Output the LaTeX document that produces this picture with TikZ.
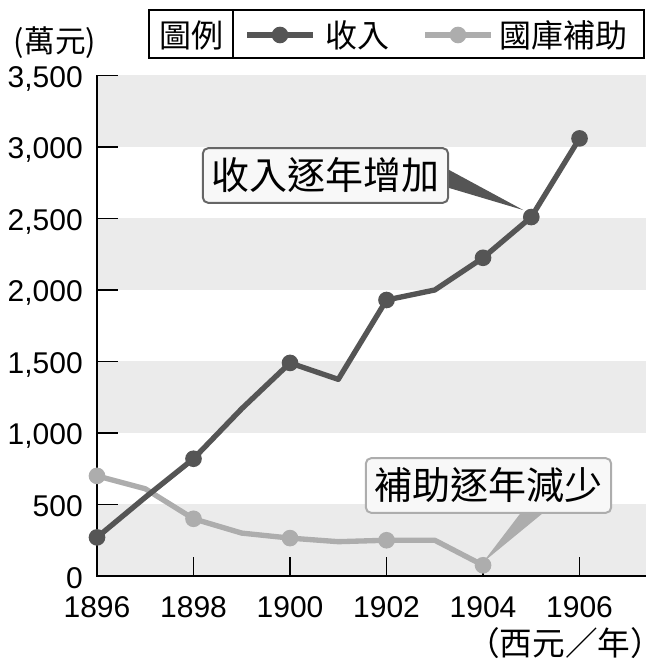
\documentclass[tikz,border=0pt]{standalone}
\usepackage{fontspec}
\setmainfont{Liberation Sans}
\newfontfamily\cjk{Noto Sans CJK TC}
\usetikzlibrary{calc}
\definecolor{incgray}{HTML}{555555}
\definecolor{subgray}{HTML}{ADADAD}
\definecolor{bandgray}{HTML}{EBEBEB}
\definecolor{notefill}{HTML}{F8F8F8}
\tikzset{
  datadot/.style={anchor=center,circle,fill,inner sep=0pt,minimum size=12.5pt},
  dataline/.style={line width=4pt,line join=round},
  numlab/.style={inner sep=0pt,font=\fontsize{22.5}{24}\selectfont},
  cjklab/.style={inner sep=0pt,font=\cjk\fontsize{24}{26}\selectfont},
  callout/.style={rounded corners=4pt,line width=1.5pt,fill=notefill,
    minimum width=184pt,minimum height=41pt,inner sep=0pt,
    font=\cjk\fontsize{28.5}{30}\selectfont},
}

\begin{document}
\begin{tikzpicture}[x=0.75pt,y=0.75pt]
  \useasboundingbox (0,0) rectangle (670,664);

  % legend
  \draw[line width=1.1pt] (149,606) rectangle (644,654);
  \draw[line width=1.1pt] (233,606) -- (233,654);
  \node[cjklab] (legtitle) at (191,629) {圖例};
  \draw[incgray,dataline] (247,629) -- (313,629);
  \node[datadot,incgray] (legdotinc) at (280,629) {};
  \node[cjklab,anchor=west] (leginc) at (325,629) {收入};
  \draw[subgray,dataline] (425,629) -- (491,629);
  \node[datadot,subgray] (legdotsub) at (458,629) {};
  \node[cjklab,anchor=west] (legsub) at (499,629) {國庫補助};

  \node[inner sep=0pt,font=\cjk\fontsize{23}{25}\selectfont] (yunit) at (55,621) {(萬元)};
  \node[inner sep=0pt,font=\cjk\fontsize{24.5}{26}\selectfont] (xunit) at (565,20.5) {（西元／年）};

  \begin{scope}[shift={(72.75pt,66pt)},x=36.19pt,y=0.10725pt]
    % bands
    \fill[bandgray] (0,0) rectangle (11.38,500);
    \fill[bandgray] (0,1000) rectangle (11.38,1500);
    \fill[bandgray] (0,2000) rectangle (11.38,2500);
    \fill[bandgray] (0,3000) rectangle (11.38,3500);

    % axes and ticks
    \draw[line width=1.5pt] (0,3500) -- (0,0) -- (11.38,0);
    \draw[line width=1.1pt] (0,500) -- ++(15.75pt,0);
    \draw[line width=1.1pt] (0,1000) -- ++(15.75pt,0);
    \draw[line width=1.1pt] (0,1500) -- ++(15.75pt,0);
    \draw[line width=1.1pt] (0,2000) -- ++(15.75pt,0);
    \draw[line width=1.1pt] (0,2500) -- ++(15.75pt,0);
    \draw[line width=1.1pt] (0,3000) -- ++(15.75pt,0);
    \draw[line width=1.1pt] (0,3500) -- ++(15.75pt,0);
    \draw[line width=1.1pt] (2,0) -- ++(0,14.25pt);
    \draw[line width=1.1pt] (4,0) -- ++(0,14.25pt);
    \draw[line width=1.1pt] (6,0) -- ++(0,14.25pt);
    \draw[line width=1.1pt] (8,0) -- ++(0,14.25pt);
    \draw[line width=1.1pt] (10,0) -- ++(0,14.25pt);

    \node[numlab,anchor=base east,xshift=-10.5pt,yshift=-9pt] (y0) at (0,0) {0};
    \node[numlab,anchor=base east,xshift=-10.5pt,yshift=-9pt] (y500) at (0,500) {500};
    \node[numlab,anchor=base east,xshift=-10.5pt,yshift=-9pt] (y1000) at (0,1000) {1,000};
    \node[numlab,anchor=base east,xshift=-10.5pt,yshift=-9pt] (y1500) at (0,1500) {1,500};
    \node[numlab,anchor=base east,xshift=-10.5pt,yshift=-9pt] (y2000) at (0,2000) {2,000};
    \node[numlab,anchor=base east,xshift=-10.5pt,yshift=-9pt] (y2500) at (0,2500) {2,500};
    \node[numlab,anchor=base east,xshift=-10.5pt,yshift=-9pt] (y3000) at (0,3000) {3,000};
    \node[numlab,anchor=base east,xshift=-10.5pt,yshift=-9pt] (y3500) at (0,3500) {3,500};

    \node[numlab,anchor=base,yshift=-30.75pt] (x1896) at (0,0) {1896};
    \node[numlab,anchor=base,yshift=-30.75pt] (x1898) at (2,0) {1898};
    \node[numlab,anchor=base,yshift=-30.75pt] (x1900) at (4,0) {1900};
    \node[numlab,anchor=base,yshift=-30.75pt] (x1902) at (6,0) {1902};
    \node[numlab,anchor=base,yshift=-30.75pt] (x1904) at (8,0) {1904};
    \node[numlab,anchor=base,yshift=-30.75pt] (x1906) at (10,0) {1906};

    % subsidy
    \coordinate (s96) at (0,700);
    \coordinate (s97) at (1,610);
    \coordinate (s98) at (2,400);
    \coordinate (s99) at (3,300);
    \coordinate (s00) at (4,265);
    \coordinate (s01) at (5,240);
    \coordinate (s02) at (6,250);
    \coordinate (s03) at (7,250);
    \coordinate (s04) at (8,75);

    \draw[subgray,dataline] (s96) -- (s97) -- (s98) -- (s99) -- (s00)
      -- (s01) -- (s02) -- (s03) -- (s04);

    \node[datadot,subgray] (ms96) at (s96) {};
    \node[datadot,subgray] (ms98) at (s98) {};
    \node[datadot,subgray] (ms00) at (s00) {};
    \node[datadot,subgray] (ms02) at (s02) {};
    \node[datadot,subgray] (ms04) at (s04) {};

    % income
    \coordinate (i96) at (0,270);
    \coordinate (i97) at (1,550);
    \coordinate (i98) at (2,820);
    \coordinate (i99) at (3,1170);
    \coordinate (i00) at (4,1490);
    \coordinate (i01) at (5,1375);
    \coordinate (i02) at (6,1930);
    \coordinate (i03) at (7,2000);
    \coordinate (i04) at (8,2225);
    \coordinate (i05) at (9,2510);
    \coordinate (i06) at (10,3060);

    \draw[incgray,dataline] (i96) -- (i97) -- (i98) -- (i99) -- (i00)
      -- (i01) -- (i02) -- (i03) -- (i04) -- (i05) -- (i06);

    \node[datadot,incgray] (mi96) at (i96) {};
    \node[datadot,incgray] (mi98) at (i98) {};
    \node[datadot,incgray] (mi00) at (i00) {};
    \node[datadot,incgray] (mi02) at (i02) {};
    \node[datadot,incgray] (mi04) at (i04) {};
    \node[datadot,incgray] (mi05) at (i05) {};
    \node[datadot,incgray] (mi06) at (i06) {};
  \end{scope}

  % callouts
  \node[callout,draw=incgray!90] (incnote) at (325.5,488.5) {收入逐年增加};
  \fill[incgray] ($(incnote.east)+(0,5.5)$) -- ($(mi05)+(-8,7)$)
    -- ($(incnote.east)+(0,-12.5)$) -- cycle;

  \node[callout,draw=subgray] (subnote) at (488.5,178.5) {補助逐年減少};
  \fill[subgray] ($(subnote.south)+(31.5,0)$) -- ($(ms04)+(0,3)$)
    -- ($(subnote.south)+(53.5,0)$) -- cycle;
\end{tikzpicture}
\end{document}
